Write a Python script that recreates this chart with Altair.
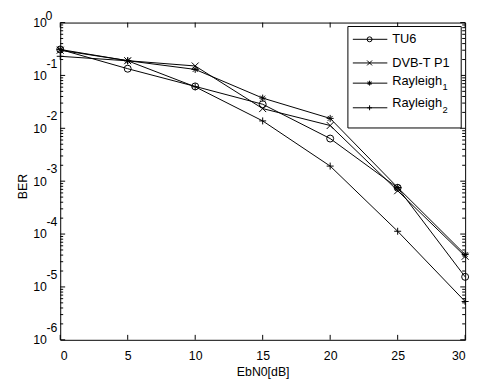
import altair as alt
import pandas as pd

# ---- data ----
ebn0 = [0, 5, 10, 15, 20, 25, 30]
ber_tu6 = [0.31, 0.134, 0.062, 0.0285, 0.0064, 7.5e-4, 1.55e-5]
ber_dvbt = [0.30, 0.19, 0.151, 0.0236, 0.0113, 6.6e-4, 3.8e-5]
ber_ray1 = [0.31, 0.19, 0.130, 0.0373, 0.0154, 7.6e-4, 4.1e-5]
ber_ray2 = [0.23, 0.189, 0.061, 0.0138, 0.00193, 1.13e-4, 5.3e-6]

series = ["TU6", "DVB-T P1", "Rayleigh1", "Rayleigh2"]
legend_main = ["TU6", "DVB-T P1", "Rayleigh", "Rayleigh"]
legend_sub = ["", "", "1", "2"]

x_ticks = [0, 5, 10, 15, 20, 25, 30]
y_decades = [1e-6, 1e-5, 1e-4, 1e-3, 1e-2, 1e-1, 1e0]
y_exponents = ["-6", "-5", "-4", "-3", "-2", "-1", "0"]

FONT = "Liberation Sans"
W, H = 411, 322

shapes = [
    "circle",
    "M-1,-1L1,1M-1,1L1,-1",
    "M-1,0L1,0M0,-1L0,1M-0.7,-0.7L0.7,0.7M-0.7,0.7L0.7,-0.7",
    "M-1,0L1,0M0,-1L0,1",
]

rows = []
for name, vals in zip(series, [ber_tu6, ber_dvbt, ber_ray1, ber_ray2]):
    for x, v in zip(ebn0, vals):
        rows.append({"series": name, "ebn0": x, "ber": v})
df = pd.DataFrame(rows)

xscale = alt.Scale(domain=[0, 30], nice=False, zero=False)
yscale = alt.Scale(type="log", domain=[1e-6, 1], nice=False)

xaxis = alt.Axis(values=x_ticks, title="EbN0[dB]", labelPadding=10,
                 titleBaseline="alphabetic", titleY=36)
yaxis = alt.Axis(values=y_decades, labelExpr="'10'", title="BER",
                 labelPadding=14, labelAlign="right", labelBaseline="middle",
                 titleAngle=270, titleBaseline="alphabetic",
                 titleX=-34, titleY=166, titleAlign="center")


def X(field):
    return alt.X(field, scale=xscale, axis=xaxis, title="EbN0[dB]")


def Y(field):
    return alt.Y(field, scale=yscale, axis=yaxis, title="BER")


lines = alt.Chart(df).mark_line(color="black", strokeWidth=1).encode(
    x=X("ebn0:Q"), y=Y("ber:Q"), detail="series:N",
)

points = alt.Chart(df).mark_point(filled=False, color="black", strokeWidth=1,
                                   size=50, opacity=1).encode(
    x=X("ebn0:Q"), y=Y("ber:Q"),
    shape=alt.Shape("series:N", scale=alt.Scale(domain=series, range=shapes), legend=None),
)

exp_df = pd.DataFrame({"v": y_decades[:-1], "e": y_exponents[:-1]})
exps = alt.Chart(exp_df).mark_text(align="left", baseline="middle", dy=-12,
                                   fontSize=12.5, font=FONT, color="black").encode(
    x=alt.value(-14), y=Y("v:Q"), text="e:N",
)
exp_top_df = pd.DataFrame({"v": y_decades[-1:], "e": y_exponents[-1:]})
exp_top = alt.Chart(exp_top_df).mark_text(align="left", baseline="middle", dy=-7,
                                          fontSize=12.5, font=FONT, color="black").encode(
    x=alt.value(-15), y=Y("v:Q"), text="e:N",
)

# inward ticks (MATLAB style)
xt_df = pd.DataFrame({"v": x_ticks})
xt_bottom = alt.Chart(xt_df).mark_rule(color="black", strokeWidth=1).encode(
    x=X("v:Q"), y=alt.value(H), y2=alt.value(H - 5))
xt_top = alt.Chart(xt_df).mark_rule(color="black", strokeWidth=1).encode(
    x=X("v:Q"), y=alt.value(0), y2=alt.value(5))

minor_vals = []
for d in y_decades[:-1]:
    for m in range(2, 10):
        minor_vals.append(m * d)
ymaj_df = pd.DataFrame({"v": y_decades})
ymin_df = pd.DataFrame({"v": minor_vals})


def ytick(data, x1, x2):
    return alt.Chart(data).mark_rule(color="black", strokeWidth=1).encode(
        y=Y("v:Q"), x=alt.value(x1), x2=alt.value(x2))


yticks = [
    ytick(ymaj_df, 0, 5), ytick(ymin_df, 0, 3),
    ytick(ymaj_df, W, W - 5), ytick(ymin_df, W, W - 3),
]

# manual legend
dummy = pd.DataFrame({"a": [0]})
legend_layers = [
    alt.Chart(dummy).mark_rect(fill="white", stroke="black", strokeWidth=1).encode(
        x=alt.value(292), x2=alt.value(407), y=alt.value(4), y2=alt.value(107))
]
line_y = [17, 41, 61.5, 86.5]
text_y = [17, 41, 59, 82]
sub_y = [0, 0, 65.5, 88.5]
for i in range(4):
    legend_layers.append(
        alt.Chart(dummy).mark_rule(color="black", strokeWidth=1).encode(
            x=alt.value(297), x2=alt.value(332), y=alt.value(line_y[i])))
    legend_layers.append(
        alt.Chart(dummy).mark_point(shape=shapes[i], size=25, filled=False,
                                    color="black", strokeWidth=1, opacity=1).encode(
            x=alt.value(314), y=alt.value(line_y[i])))
    legend_layers.append(
        alt.Chart(dummy).mark_text(text=legend_main[i], align="left", baseline="middle",
                                   fontSize=13, font=FONT, color="black").encode(
            x=alt.value(337), y=alt.value(text_y[i])))
    if legend_sub[i]:
        legend_layers.append(
            alt.Chart(dummy).mark_text(text=legend_sub[i], align="left", baseline="middle",
                                       fontSize=9.5, font=FONT, color="black").encode(
                x=alt.value(388), y=alt.value(sub_y[i])))

chart = alt.layer(
    lines, points, exps, exp_top, xt_bottom, xt_top, *yticks, *legend_layers
).properties(
    width=W, height=H,
    autosize=alt.AutoSizeParams(type="none"),
    padding={"left": 53, "top": 12, "right": 10, "bottom": 37},
    background="white",
).configure_view(
    stroke="black", strokeWidth=1,
).configure_axis(
    grid=False, domain=False, ticks=False,
    labelFont=FONT, labelFontSize=12.5, labelColor="black",
    titleFont=FONT, titleFontSize=12.5, titleColor="black", titleFontWeight="normal",
)

chart.save("out.html", embed_options={"renderer": "svg", "actions": False})
